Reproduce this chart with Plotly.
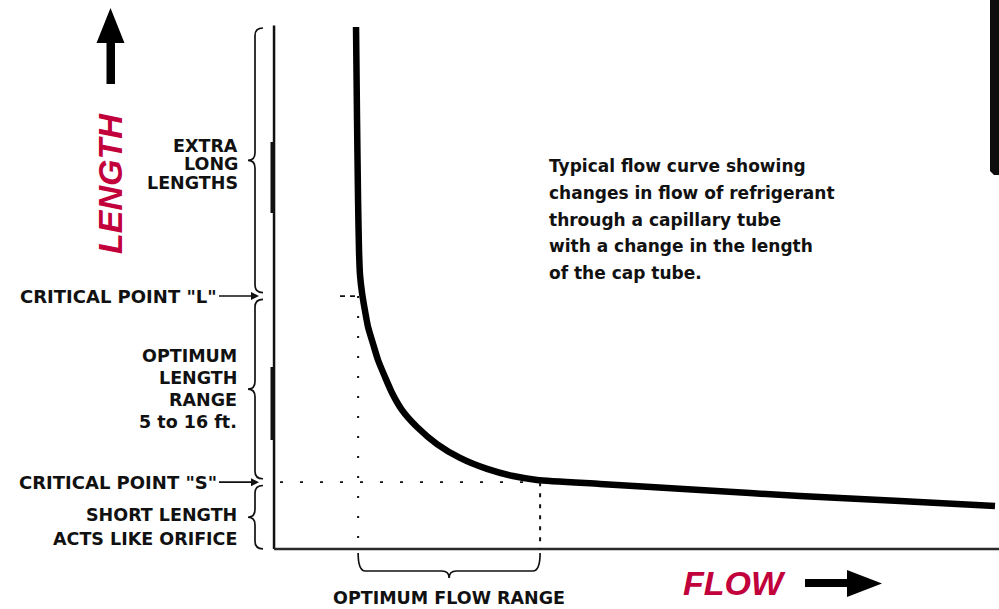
import plotly.graph_objects as go

# Capillary tube flow curve: relative flow vs. tube length (ft)
flow = [11.31, 11.45, 11.59, 11.72, 11.86, 12.14, 12.55, 12.97, 13.66, 14.34, 15.31,
        16.28, 17.66, 19.72, 22.48, 25.66, 29.38, 32.97, 36.28, 44.97, 58.76, 72.55,
        86.34, 99.45]
length_ft = [31.9, 26.41, 21.68, 18.72, 17.24, 16.18, 15.12, 14.17, 13.17, 12.22, 11.21,
             10.27, 9.26, 8.26, 7.25, 6.43, 5.78, 5.36, 5.13, 4.89, 4.53, 4.18,
             3.88, 3.59]

crit_L_ft = 16          # critical point "L"
crit_S_ft = 5           # critical point "S"
optimum_flow = [11.6, 36.7]

paragraph = ["Typical flow curve showing",
             "changes in flow of refrigerant",
             "through a capillary tube",
             "with a change in the length",
             "of the cap tube."]

# ---- frame ------------------------------------------------------------------
W, H = 999, 609
X_RANGE = [-37.8, 100.0]
Y_RANGE = [-2.5, 33.5]
Y_FLOOR = 1.05          # where the flow axis sits on the length scale
Y_TOP = 32.0            # top of the length axis


def fx(px):
    return X_RANGE[0] + px / W * (X_RANGE[1] - X_RANGE[0])


def fy(py):
    return Y_RANGE[1] - py / H * (Y_RANGE[1] - Y_RANGE[0])


def paper_path(points):
    pts = [(x / W, 1 - y / H) for x, y in points]
    return "M " + " L ".join(f"{a:.5f},{b:.5f}" for a, b in pts) + " Z"


INK = "#111111"
RED = "#c2003b"
LABEL_FONT = dict(family="DejaVu Sans", size=17.5, color=INK)
BOLD = "<b>{}</b>"

fig = go.Figure()

fig.add_trace(go.Scatter(
    x=flow, y=length_ft, mode="lines",
    line=dict(color="black", width=6.5, shape="spline", smoothing=0.6),
    hoverinfo="skip"))

shapes = []

# axes
shapes.append(dict(type="line", xref="x", yref="y", x0=0, x1=0, y0=Y_FLOOR, y1=Y_TOP,
                   line=dict(color=INK, width=2.5)))
shapes.append(dict(type="line", xref="x", yref="y", x0=0, x1=X_RANGE[1] + 1, y0=Y_FLOOR, y1=Y_FLOOR,
                   line=dict(color="#2a2a2a", width=2.5)))
# heavier strokes on the length axis
for a, b in [(fy(142), fy(213)), (fy(367), fy(440))]:
    shapes.append(dict(type="line", xref="x", yref="y", x0=fx(272.5), x1=fx(272.5), y0=a, y1=b,
                       line=dict(color=INK, width=4)))

# guide lines at the critical points
shapes.append(dict(type="line", xref="x", yref="y", x0=fx(340), x1=optimum_flow[0],
                   y0=crit_L_ft, y1=crit_L_ft, line=dict(color=INK, width=1.8, dash="5px,5px")))
shapes.append(dict(type="line", xref="x", yref="y", x0=optimum_flow[0], x1=optimum_flow[0],
                   y0=crit_L_ft, y1=Y_FLOOR, line=dict(color=INK, width=2, dash="2px,18px")))
shapes.append(dict(type="line", xref="x", yref="y", x0=fx(280), x1=optimum_flow[1],
                   y0=crit_S_ft, y1=crit_S_ft, line=dict(color=INK, width=1.8, dash="3px,17px")))
shapes.append(dict(type="line", xref="x", yref="y", x0=optimum_flow[1], x1=optimum_flow[1],
                   y0=crit_S_ft, y1=Y_FLOOR, line=dict(color=INK, width=2, dash="4px,7px")))


def vbrace(y_top, y_bot):
    xl, xt, xe = fx(255), fx(248), fx(263)
    cy = 0.45
    ym = (y_top + y_bot) / 2
    return (f"M {xe},{y_top} Q {xl},{y_top} {xl},{y_top - cy} L {xl},{ym + cy} "
            f"Q {xl},{ym} {xt},{ym} Q {xl},{ym} {xl},{ym - cy} L {xl},{y_bot + cy} "
            f"Q {xl},{y_bot} {xe},{y_bot}")


gap = 0.2
for a, b in [(fy(28), crit_L_ft + gap), (crit_L_ft - gap, crit_S_ft + gap), (crit_S_ft - gap, Y_FLOOR)]:
    shapes.append(dict(type="path", xref="x", yref="y", path=vbrace(a, b),
                       line=dict(color=INK, width=1.7)))

# brace under the flow axis spanning the optimum flow range
x0, x1 = optimum_flow
xm = (x0 + x1) / 2
yt, yb, ytip = fy(553), fy(571), fy(578)
cx = 1.0
shapes.append(dict(type="path", xref="x", yref="y", line=dict(color=INK, width=1.7),
                   path=(f"M {x0},{yt} Q {x0},{yb} {x0 + cx},{yb} L {xm - cx},{yb} "
                         f"Q {xm},{yb} {xm},{ytip} Q {xm},{yb} {xm + cx},{yb} "
                         f"L {x1 - cx},{yb} Q {x1},{yb} {x1},{yt}")))

# direction arrows and edge bar
shapes.append(dict(type="path", xref="paper", yref="paper", fillcolor="black", line=dict(width=0),
                   path=paper_path([(106.5, 84), (106.5, 43), (96.5, 43), (110.5, 8),
                                    (124.5, 43), (115, 43), (115, 84)])))
shapes.append(dict(type="path", xref="paper", yref="paper", fillcolor="black", line=dict(width=0),
                   path=paper_path([(805, 579), (847, 579), (847, 570), (882, 583.5),
                                    (847, 597), (847, 587), (805, 587)])))
shapes.append(dict(type="path", xref="paper", yref="paper", fillcolor="#0d0d0d", line=dict(width=0),
                   path=paper_path([(990, 0), (999, 0), (999, 175), (994, 175), (990, 171)])))

annotations = []


def label(text, px, py, anchor="right"):
    annotations.append(dict(x=fx(px), y=fy(py), xref="x", yref="y", text=BOLD.format(text),
                            showarrow=False, xanchor=anchor, yanchor="middle", font=LABEL_FONT))


for t, py in [("EXTRA", 146), ("LONG", 164), ("LENGTHS", 183)]:
    label(t, 240, py)
for t, py in [("OPTIMUM", 356), ("LENGTH", 378), ("RANGE", 400), ("5 to 16 ft.", 422)]:
    label(t, 239, py)
for t, py in [("SHORT LENGTH", 515), ("ACTS LIKE ORIFICE", 539)]:
    label(t, 239, py)

for name, val in [("L", crit_L_ft), ("S", crit_S_ft)]:
    annotations.append(dict(x=fx(259), y=val, xref="x", yref="y",
                            text=BOLD.format(f'CRITICAL POINT "{name}"'),
                            showarrow=True, ax=-40, ay=0, xanchor="right", yanchor="middle",
                            arrowhead=2, arrowsize=1, arrowwidth=1.6, arrowcolor=INK,
                            font=dict(family="DejaVu Sans", size=18, color=INK)))

annotations.append(dict(x=xm, y=fy(598), xref="x", yref="y", text=BOLD.format("OPTIMUM FLOW RANGE"),
                        showarrow=False, xanchor="center", yanchor="middle", font=LABEL_FONT))

for i, line in enumerate(paragraph):
    annotations.append(dict(x=fx(547), y=fy(166 + 26.8 * i), xref="x", yref="y",
                            text=BOLD.format(line), showarrow=False, xanchor="left",
                            yanchor="middle", font=dict(family="DejaVu Sans", size=17, color=INK)))

annotations.append(dict(x=fx(110), y=fy(184), xref="x", yref="y", text="<b><i>LENGTH</i></b>",
                        textangle=-90, showarrow=False, xanchor="center", yanchor="middle",
                        font=dict(family="Liberation Sans, Arial", size=34, color=RED)))
annotations.append(dict(x=fx(734), y=fy(583), xref="x", yref="y", text="<b><i>FLOW</i></b>",
                        showarrow=False, xanchor="center", yanchor="middle",
                        font=dict(family="Liberation Sans, Arial", size=34, color=RED)))

fig.update_layout(
    width=W, height=H, margin=dict(l=0, r=0, t=0, b=0),
    paper_bgcolor="white", plot_bgcolor="white", showlegend=False,
    xaxis=dict(range=X_RANGE, visible=False, fixedrange=True),
    yaxis=dict(range=Y_RANGE, visible=False, fixedrange=True),
    shapes=shapes, annotations=annotations,
)

fig.write_html("out.html", config={"displayModeBar": False})
